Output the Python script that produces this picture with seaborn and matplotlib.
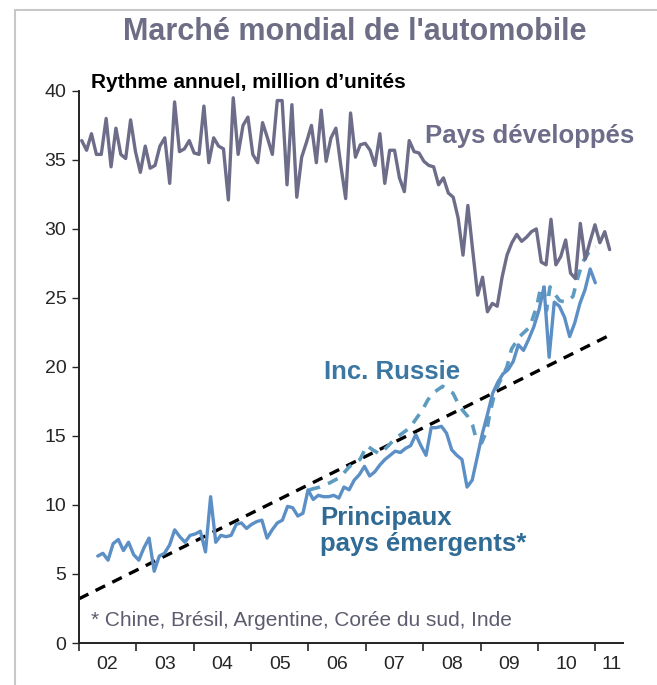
import numpy as np
import pandas as pd
import matplotlib.pyplot as plt
from matplotlib.lines import Line2D
import seaborn as sns

# Pays développés, rythme annuel (millions), mensuel
dev_start, dev_end = 2002.05, 2011.25
developed = [36.4, 35.7, 36.9, 35.4, 35.4, 38.0, 34.5, 37.3, 35.4, 35.1, 37.9, 35.6,
             34.1, 36.0, 34.4, 34.6, 36.0, 36.6, 33.3, 39.2, 35.6, 35.8, 36.4, 35.5,
             35.4, 38.9, 34.8, 36.6, 36.0, 35.8, 32.1, 39.5, 35.4, 37.5, 38.1,
             35.4, 34.8, 37.7, 36.6, 35.4, 39.3, 39.3, 33.2, 39.0, 32.3, 35.2, 36.3,
             37.5, 34.8, 38.6, 34.9, 36.6, 37.3, 34.6, 32.2, 38.4, 35.2, 36.1, 36.2,
             35.7, 34.6, 36.9, 33.3, 35.7, 35.7, 33.7,
             32.7, 36.4, 35.6, 35.5, 34.9, 34.6, 34.5, 33.2, 33.7, 32.6, 32.3, 30.8,
             28.1, 31.7, 28.4, 25.2, 26.5, 24.0, 24.6, 24.4, 26.5, 28.1, 29.0, 29.6,
             29.1, 29.4, 29.8, 30.0, 27.6, 27.4, 30.7, 27.4, 28.0, 29.2, 26.8, 26.4,
             30.4, 27.8, 29.1, 30.3, 29.0, 29.8, 28.5]

# Principaux pays émergents
emg_start, emg_end = 2002.33, 2011.0
emerging = [6.3, 6.5, 6.0, 7.2, 7.5, 6.7, 7.3, 6.4, 6.0, 6.9, 7.6, 5.2, 6.3, 6.5,
            7.1, 8.2, 7.7, 7.3, 7.8, 7.9, 8.1, 6.6, 10.6, 7.3, 7.8, 7.7, 7.8, 8.6,
            8.7, 8.3, 8.6, 8.8, 8.9, 7.6,
            8.2, 8.7, 8.9, 9.9, 9.8, 9.2, 9.4, 11.1, 10.4,
            10.7, 10.6, 10.6, 10.7, 10.5, 11.3, 11.1, 11.8, 12.2, 12.8, 12.1, 12.4,
            12.9, 13.3, 13.6, 13.9, 13.8, 14.1, 14.3, 15.1, 14.3, 13.6, 15.6,
            15.6, 15.7, 15.2, 14.0, 13.6, 13.3, 11.3, 11.8, 13.5, 15.2,
            16.6, 18.1, 18.9, 19.5, 19.8, 20.4, 21.6, 21.2, 22.0, 22.9, 24.1, 25.8,
            20.7, 24.7, 24.4, 23.6, 22.2, 23.2, 24.6, 25.6, 27.1, 26.1]

# Inc. Russie (pointillés)
russia_years = [2006.02, 2006.20, 2006.37, 2006.55, 2006.72, 2006.90, 2007.02, 2007.12,
                2007.24, 2007.37, 2007.51, 2007.64, 2007.77, 2007.87, 2007.99, 2008.08,
                2008.17, 2008.34, 2008.52, 2008.64, 2008.78, 2008.86, 2008.93, 2009.02,
                2009.11, 2009.16, 2009.23, 2009.32, 2009.46, 2009.54, 2009.68, 2009.86,
                2009.98, 2010.05, 2010.10, 2010.15, 2010.21, 2010.29, 2010.38, 2010.48,
                2010.61, 2010.69, 2010.78, 2010.90, 2011.01]
russia = [11.1, 11.3, 11.6, 12.0, 12.8, 13.3, 14.3, 14.0, 13.7, 14.2, 14.8, 15.2,
          15.6, 16.2, 16.9, 17.6, 18.1, 18.6, 18.1, 17.1, 16.4, 15.8, 14.7, 14.5,
          15.4, 16.6, 17.8, 18.8, 20.0, 21.3, 22.2, 22.9, 24.4, 25.8, 25.9, 24.1,
          25.8, 25.3, 24.8, 24.7, 25.1, 26.4, 27.6, 28.4, 28.7]

# tendance
trend_years = [2002.0, 2011.3]
trend = [3.2, 22.4]

year_ticks = list(range(2002, 2012))
year_labels = ['02', '03', '04', '05', '06', '07', '08', '09', '10', '11']

dev_df = pd.DataFrame({'annee': np.linspace(dev_start, dev_end, len(developed)),
                       'valeur': developed})
emg_df = pd.DataFrame({'annee': np.linspace(emg_start, emg_end, len(emerging)),
                       'valeur': emerging})
rus_df = pd.DataFrame({'annee': russia_years, 'valeur': russia})
trend_df = pd.DataFrame({'annee': trend_years, 'valeur': trend})

sns.set_style('ticks')
plt.rcParams['font.family'] = ['Liberation Sans', 'DejaVu Sans']

fig = plt.figure(figsize=(6.57, 6.85), dpi=100)
ax = fig.add_axes([0.120, 0.0613, 0.828, 0.806])

c_dev = '#6d6d8a'
c_emg = '#5b8fc6'
c_rus = '#5d9cc0'

sns.lineplot(data=trend_df, x='annee', y='valeur', ax=ax, color='black',
             lw=2.4, linestyle=(0, (3.2, 2.4)))
sns.lineplot(data=rus_df, x='annee', y='valeur', ax=ax, color=c_rus,
             lw=2.6, linestyle=(0, (3, 2.4)))
sns.lineplot(data=emg_df, x='annee', y='valeur', ax=ax, color=c_emg, lw=2.4)
sns.lineplot(data=dev_df, x='annee', y='valeur', ax=ax, color=c_dev, lw=2.4)

ax.set_xlim(2002.0, 2011.48)
ax.set_ylim(0, 40)
ax.set_yticks(range(0, 41, 5))
ax.set_xticks(year_ticks)
ax.set_xticklabels([])
ax.set_xticks([y + 0.5 for y in year_ticks[:-1]] + [2011.28], minor=True)
ax.set_xticklabels(year_labels, minor=True)
ax.tick_params(axis='x', which='minor', length=0, pad=9, labelsize=14)
ax.tick_params(axis='x', which='major', length=6, width=1.2, direction='out')
ax.tick_params(axis='y', length=5, width=1.0, direction='out', labelsize=14, pad=4)
for lbl in ax.get_xticklabels(minor=True) + ax.get_yticklabels():
    lbl.set_family(['Liberation Sans Narrow', 'Liberation Sans', 'DejaVu Sans'])
ax.set_xlabel('')
ax.set_ylabel('')
sns.despine(ax=ax)
for s in ['left', 'bottom']:
    ax.spines[s].set_linewidth(1.4)
    ax.spines[s].set_color('#222222')

fig.text(0.54, 0.953, "Marché mondial de l'automobile", ha='center', va='center',
         fontsize=22, fontweight='bold', color='#6d6d85')
ax.text(2002.22, 40.6, "Rythme annuel, million d\u2019unités", ha='left', va='center',
        fontsize=15, fontweight='bold', color='black', clip_on=False)
ax.text(2008.03, 36.7, 'Pays développés', ha='left', va='center', fontsize=18.5,
        fontweight='bold', color=c_dev, clip_on=False)
ax.text(2006.28, 19.6, 'Inc. Russie', ha='left', va='center', fontsize=18.5,
        fontweight='bold', color='#3b77a2')
ax.text(2006.2, 8.1, 'Principaux\npays émergents*', ha='left', va='center',
        fontsize=18.5, fontweight='bold', color='#2f6b95', linespacing=1.1)
ax.text(2002.22, 1.6, '* Chine, Brésil, Argentine, Corée du sud, Inde', ha='left',
        va='center', fontsize=15, color='#5c5c6e')

# cadre gris
fig.add_artist(Line2D([15 / 657, 15 / 657], [0, 1 - 10 / 685], color='#c8c8c8', lw=1.5))
fig.add_artist(Line2D([15 / 657, 1], [1 - 10 / 685, 1 - 10 / 685], color='#c8c8c8', lw=1.5))

fig.savefig('out.png', dpi=100)
